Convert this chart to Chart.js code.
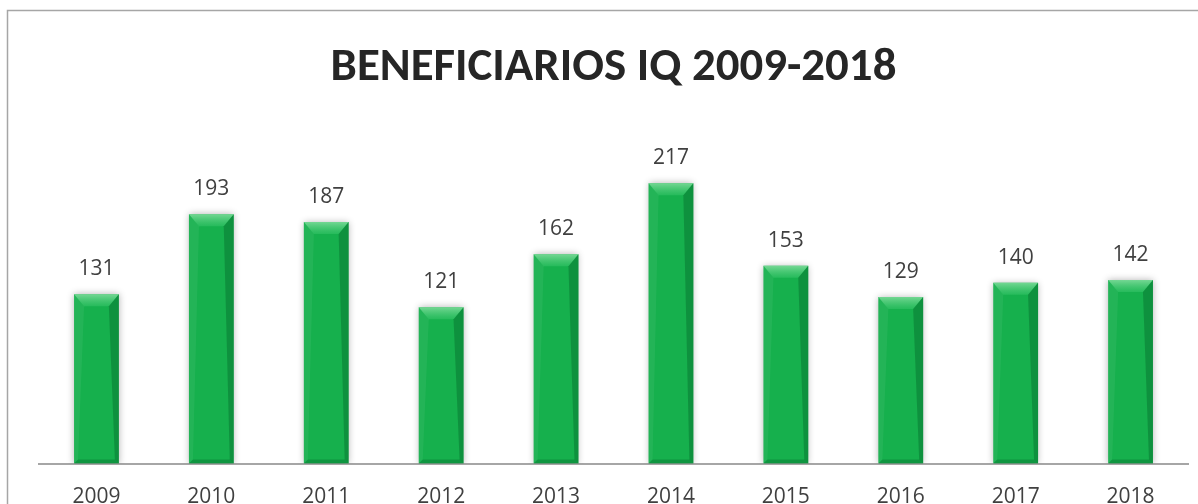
<!DOCTYPE html>
<html>
<head>
<meta charset="utf-8">
<script src="https://cdn.jsdelivr.net/npm/chart.js@4.4.1/dist/chart.umd.min.js"></script>
<style>
  html, body { margin: 0; padding: 0; background: #ffffff; overflow: hidden; }
  #c { display: block; width: 1198px; height: 542px; }
</style>
</head>
<body>
<canvas id="c" width="1198" height="542"></canvas>
<script>
// ---- Data ----
const categories = ['2009','2010','2011','2012','2013','2014','2015','2016','2017','2018'];
const beneficiarios = [131, 193, 187, 121, 162, 217, 153, 129, 140, 142];
const titleText = 'BENEFICIARIOS IQ 2009-2018';
const yMin = 0;
const yMax = 250;

// ---- Fit title font to reference width ----
const TITLE_FAMILY = "Carlito, Lato, 'Open Sans', sans-serif";
const mctx = document.createElement('canvas').getContext('2d');
mctx.font = "bold 100px " + TITLE_FAMILY;
const w100 = mctx.measureText(titleText).width;
let titleSize = Math.round(100 * 566 / w100 * 10) / 10;
if (titleSize > 47.5) titleSize = 47.5;

const titleCenterY = 68;
const plotTop = 140.5;
const titlePadTop = titleCenterY - 0.6 * titleSize;
const titlePadBottom = plotTop - titlePadTop - 1.2 * titleSize;

// ---- Plugins ----
const framePlugin = {
  id: 'frame',
  beforeDraw(chart) {
    const ctx = chart.ctx;
    ctx.save();
    ctx.fillStyle = '#ffffff';
    ctx.fillRect(0, 0, chart.width, chart.height);
    ctx.strokeStyle = '#a6a6a6';
    ctx.lineWidth = 1.5;
    ctx.strokeRect(7.5, 10.5, chart.width + 10, chart.height + 10);
    ctx.restore();
  }
};

const shadowPlugin = {
  id: 'barShadow',
  beforeDatasetDraw(chart) {
    const ctx = chart.ctx;
    ctx.save();
    ctx.shadowColor = 'rgba(0,0,0,0.3)';
    ctx.shadowBlur = 7;
    ctx.shadowOffsetX = 0;
    ctx.shadowOffsetY = 0;
  },
  afterDatasetDraw(chart) {
    chart.ctx.restore();
  }
};

const bevelPlugin = {
  id: 'bevel',
  afterDatasetsDraw(chart) {
    const ctx = chart.ctx;
    const meta = chart.getDatasetMeta(0);
    meta.data.forEach((bar) => {
      const p = bar.getProps(['x', 'y', 'base', 'width'], true);
      const l = p.x - p.width / 2, r = p.x + p.width / 2;
      const t = p.y, b = p.base;
      const bt = 12, bs = 4, bb = 4;
      ctx.save();
      const g = ctx.createLinearGradient(0, t, 0, t + bt);
      g.addColorStop(0, 'rgba(140,225,165,0.8)');
      g.addColorStop(1, 'rgba(60,200,110,0.45)');
      ctx.fillStyle = g;
      ctx.beginPath();
      ctx.moveTo(l, t); ctx.lineTo(r, t); ctx.lineTo(r - bs * 2.5, t + bt); ctx.lineTo(l + bs * 2.5, t + bt);
      ctx.closePath(); ctx.fill();
      ctx.fillStyle = 'rgba(0,90,35,0.35)';
      ctx.beginPath();
      ctx.moveTo(r, t); ctx.lineTo(r, b); ctx.lineTo(r - bs, b - bb); ctx.lineTo(r - bs * 2.5, t + bt);
      ctx.closePath(); ctx.fill();
      ctx.fillStyle = 'rgba(255,255,255,0.06)';
      ctx.beginPath();
      ctx.moveTo(l, t); ctx.lineTo(l, b); ctx.lineTo(l + bs, b - bb); ctx.lineTo(l + bs * 2.5, t + bt);
      ctx.closePath(); ctx.fill();
      ctx.fillStyle = 'rgba(0,90,35,0.3)';
      ctx.beginPath();
      ctx.moveTo(l, b); ctx.lineTo(r, b); ctx.lineTo(r - bs, b - bb); ctx.lineTo(l + bs, b - bb);
      ctx.closePath(); ctx.fill();
      ctx.restore();
    });
  }
};

const labelPlugin = {
  id: 'valueLabels',
  afterDatasetsDraw(chart) {
    const ctx = chart.ctx;
    const meta = chart.getDatasetMeta(0);
    const data = chart.data.datasets[0].data;
    ctx.save();
    ctx.font = "21px 'Open Sans', sans-serif";
    ctx.fillStyle = '#404040';
    ctx.textAlign = 'center';
    ctx.textBaseline = 'middle';
    meta.data.forEach((bar, i) => {
      ctx.fillText(String(data[i]), bar.x, bar.y - 25);
    });
    ctx.restore();
  }
};

// ---- Chart ----
new Chart(document.getElementById('c'), {
  type: 'bar',
  data: {
    labels: categories,
    datasets: [{
      data: beneficiarios,
      backgroundColor: '#16b04d',
      borderWidth: 0,
      categoryPercentage: 1.0,
      barPercentage: 0.39
    }]
  },
  options: {
    responsive: false,
    maintainAspectRatio: false,
    animation: false,
    devicePixelRatio: 1,
    layout: { padding: { left: 39, right: 10, top: 0, bottom: 12.4 } },
    plugins: {
      legend: { display: false },
      tooltip: { enabled: false },
      title: {
        display: true,
        text: titleText,
        color: '#262626',
        font: { family: TITLE_FAMILY, size: titleSize, weight: 'bold', lineHeight: 1.2 },
        padding: { top: titlePadTop, bottom: titlePadBottom }
      }
    },
    scales: {
      x: {
        grid: { display: false, drawTicks: false },
        border: { display: true, color: '#a6a6a6', width: 2 },
        ticks: {
          color: '#404040',
          padding: 20.4,
          font: { family: "'Open Sans', sans-serif", size: 21, lineHeight: 1.2 },
          maxRotation: 0
        }
      },
      y: {
        display: false,
        min: yMin,
        max: yMax
      }
    }
  },
  plugins: [framePlugin, shadowPlugin, bevelPlugin, labelPlugin]
});
</script>
</body>
</html>
